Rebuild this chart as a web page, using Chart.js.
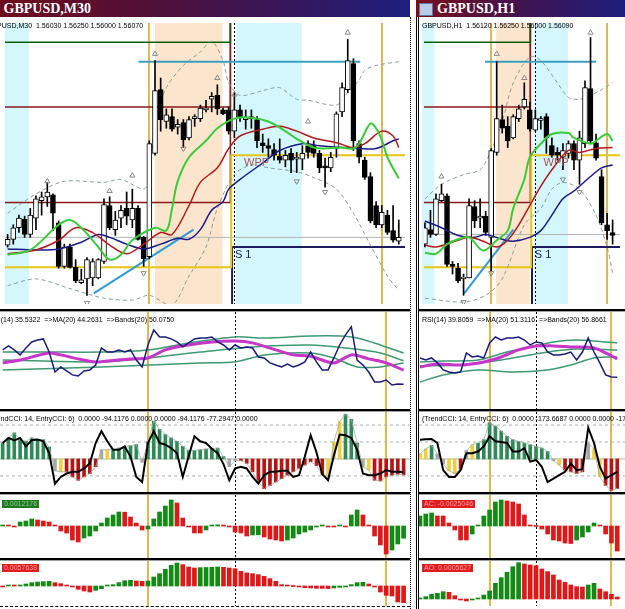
<!DOCTYPE html>
<html>
<head>
<meta charset="utf-8">
<title>GBPUSD M30 / H1</title>
<script src="https://cdn.jsdelivr.net/npm/chart.js@4.4.1/dist/chart.umd.min.js"></script>
<style>
  body { margin:0; width:625px; height:609px; position:relative; overflow:hidden; background:#fff; font-family:"Liberation Sans", Arial, sans-serif; }
  canvas { position:absolute; }
  .title { position:absolute; top:0; height:17px; color:#fff; font:bold 14px "Liberation Serif", serif; line-height:17px; white-space:nowrap; overflow:hidden; }
  .txt { position:absolute; font-size:7px; line-height:8px; white-space:nowrap; color:#000; }
  .hsep { position:absolute; height:2px; background:#000; border-bottom:1px solid #a0a0a0; }
  .tag { position:absolute; height:8px; font-size:7px; line-height:8px; padding:0 2px; white-space:nowrap; }
</style>
</head>
<body>

<div class="title" style="left:0;width:410px;background:linear-gradient(90deg,#6e0c1c,#4a1040 45%,#1e1f7e)">&nbsp;GBPUSD,M30</div>
<div class="title" style="left:416px;width:209px;background:linear-gradient(90deg,#7a0e1a,#3c1456 55%,#1e1f7e)"><span style="display:inline-block;width:12px;height:11px;margin:3px 4px 0 3px;vertical-align:top;background:#b8cbe8;border:1px solid #5a78a8"></span>GBPUSD,H1</div>

<div style="position:absolute;left:410px;top:17px;width:0;height:592px;border-left:1px dotted #000"></div>
<div style="position:absolute;left:416px;top:17px;width:0;height:592px;border-left:3px double #000"></div>
<div style="position:absolute;left:0;top:606px;width:410px;border-top:1px dashed #000"></div>

<canvas id="lp" width="410" height="291" style="left:0;top:18px"></canvas>
<canvas id="lr" width="410" height="97" style="left:0;top:312px"></canvas>
<canvas id="lc" width="410" height="80" style="left:0;top:412px"></canvas>
<canvas id="la" width="410" height="63" style="left:0;top:495px"></canvas>
<canvas id="lo" width="410" height="45" style="left:0;top:561px"></canvas>

<canvas id="rp" width="206" height="291" style="left:419px;top:18px"></canvas>
<canvas id="rr" width="206" height="97" style="left:419px;top:312px"></canvas>
<canvas id="rc" width="206" height="80" style="left:419px;top:412px"></canvas>
<canvas id="ra" width="206" height="63" style="left:419px;top:495px"></canvas>
<canvas id="ro" width="206" height="45" style="left:419px;top:561px"></canvas>

<div class="hsep" style="left:0;width:410px;top:309px"></div>
<div class="hsep" style="left:0;width:410px;top:409px"></div>
<div class="hsep" style="left:0;width:410px;top:492px"></div>
<div class="hsep" style="left:0;width:410px;top:558px"></div>
<div class="hsep" style="left:419px;width:206px;top:309px"></div>
<div class="hsep" style="left:419px;width:206px;top:409px"></div>
<div class="hsep" style="left:419px;width:206px;top:492px"></div>
<div class="hsep" style="left:419px;width:206px;top:558px"></div>

<div class="txt" style="left:-13px;top:22px">GBPUSD,M30&nbsp;&nbsp;1.56030 1.56250 1.56000 1.56070</div>
<div class="txt" style="left:-11px;top:316px">RSI(14) 35.5322 &nbsp;=&gt;MA(20) 44.2631 &nbsp;=&gt;Bands(20) 50.0750</div>
<div class="txt" style="left:-12px;top:415px">(TrendCCI: 14, EntryCCI: 6)&nbsp;&nbsp;0.0000 -94.1176 0.0000 0.0000 -94.1176 -77.2947 0.0000</div>
<div class="tag" style="left:2px;top:500px;background:#1d7a1d;color:#9fc89f">0.0012176</div>
<div class="tag" style="left:2px;top:564px;background:#e01c1c;color:#f4a0a0">0.0057638</div>

<div class="txt" style="left:422px;top:22px">GBPUSD,H1&nbsp;&nbsp;1.56120 1.56250 1.56000 1.56090</div>
<div class="txt" style="left:422px;top:316px">RSI(14) 39.8059 &nbsp;=&gt;MA(20) 51.3116 &nbsp;=&gt;Bands(20) 56.8661</div>
<div class="txt" style="left:422px;top:415px">(TrendCCI: 14, EntryCCI: 6)&nbsp;&nbsp;0.0000 -173.6687 0.0000 0.0000 -173.6687</div>
<div class="tag" style="left:422px;top:500px;background:#e01c1c;color:#f4a0a0">AC: -0.0025046</div>
<div class="tag" style="left:422px;top:564px;background:#e01c1c;color:#f4a0a0">AO: 0.0005627</div>

<script>
// ---------- GBPUSD M30 (left window) ----------
const m30Open  = [1.5599,1.5605,1.5617,1.5626,1.5610,1.5627,1.5645,1.5649,1.5651,1.5622,1.5577,1.5597,1.5576,1.5560,1.5564,1.5565,1.5565,1.5582,1.5640,1.5615,1.5627,1.5637,1.5625,1.5637,1.5607,1.5587,1.5694,1.5760,1.5727,1.5732,1.5721,1.5726,1.5710,1.5730,1.5730,1.5739,1.5750,1.5754,1.5739,1.5739,1.5717,1.5739,1.5729,1.5732,1.5729,1.5705,1.5702,1.5698,1.5691,1.5687,1.5694,1.5688,1.5688,1.5702,1.5702,1.5694,1.5681,1.5679,1.5699,1.5737,1.5760,1.5787,1.5704,1.5687,1.5670,1.5640,1.5620,1.5630,1.5614,1.5603];
const m30High  = [1.5610,1.5620,1.5630,1.5629,1.5637,1.5650,1.5654,1.5664,1.5652,1.5624,1.5600,1.5600,1.5584,1.5574,1.5586,1.5585,1.5585,1.5647,1.5649,1.5634,1.5640,1.5654,1.5657,1.5640,1.5608,1.5707,1.5790,1.5772,1.5740,1.5740,1.5729,1.5729,1.5732,1.5734,1.5744,1.5749,1.5757,1.5765,1.5741,1.5742,1.5757,1.5744,1.5739,1.5739,1.5732,1.5714,1.5709,1.5704,1.5709,1.5697,1.5699,1.5695,1.5702,1.5707,1.5707,1.5697,1.5689,1.5695,1.5737,1.5767,1.5812,1.5792,1.5707,1.5690,1.5674,1.5644,1.5640,1.5635,1.5640,1.5625];
const m30Low   = [1.5597,1.5600,1.5612,1.5607,1.5607,1.5615,1.5630,1.5639,1.5614,1.5575,1.5575,1.5575,1.5560,1.5559,1.5547,1.5557,1.5564,1.5580,1.5615,1.5609,1.5617,1.5620,1.5617,1.5604,1.5577,1.5585,1.5692,1.5717,1.5720,1.5717,1.5714,1.5700,1.5708,1.5722,1.5727,1.5737,1.5737,1.5734,1.5734,1.5714,1.5710,1.5727,1.5719,1.5720,1.5700,1.5695,1.5690,1.5687,1.5684,1.5680,1.5674,1.5674,1.5677,1.5689,1.5690,1.5674,1.5659,1.5675,1.5690,1.5732,1.5757,1.5697,1.5684,1.5667,1.5622,1.5617,1.5617,1.5610,1.5602,1.5600];
const m30Close = [1.5605,1.5617,1.5627,1.5610,1.5630,1.5647,1.5649,1.5654,1.5632,1.5577,1.5597,1.5576,1.5562,1.5563,1.5584,1.5582,1.5584,1.5641,1.5617,1.5625,1.5635,1.5629,1.5637,1.5605,1.5585,1.5704,1.5759,1.5729,1.5734,1.5719,1.5724,1.5708,1.5729,1.5732,1.5741,1.5741,1.5753,1.5740,1.5735,1.5717,1.5739,1.5732,1.5731,1.5730,1.5707,1.5702,1.5699,1.5692,1.5687,1.5692,1.5687,1.5690,1.5694,1.5695,1.5694,1.5679,1.5679,1.5690,1.5735,1.5762,1.5790,1.5707,1.5690,1.5669,1.5624,1.5620,1.5633,1.5612,1.5604,1.5607];

// moving averages and bands, [bar, price]
const m30FastMA = [[0,1.5589],[4,1.5594],[9,1.5620],[11,1.5625],[13,1.5617],[16,1.5597],[18,1.5584],[20,1.5589],[22,1.5604],[26,1.5617],[28,1.5614],[29,1.5637],[30,1.5665],[32,1.5690],[35,1.5707],[37,1.5720],[40,1.5730],[43,1.5731],[46,1.5727],[49,1.5717],[51,1.5709],[54,1.5700],[56,1.5699],[59,1.5700],[61,1.5699],[62,1.5704],[64,1.5725],[65,1.5720],[66,1.5708],[67,1.5690],[69,1.5668]];
const m30MidMA  = [[0,1.5590],[5,1.5594],[9,1.5604],[12,1.5617],[15,1.5612],[18,1.5599],[21,1.5590],[24,1.5600],[27,1.5612],[29,1.5610],[32,1.5640],[34,1.5664],[37,1.5679],[39,1.5699],[41,1.5712],[45,1.5719],[48,1.5722],[51,1.5717],[54,1.5710],[58,1.5705],[61,1.5700],[63,1.5704],[66,1.5717],[68,1.5712],[69,1.5700]];
const m30SlowMA = [[0,1.5595],[5,1.5594],[9,1.5595],[13,1.5602],[16,1.5610],[18,1.5607],[21,1.5600],[24,1.5595],[27,1.5600],[30,1.5606],[32,1.5605],[34,1.5615],[36,1.5635],[38,1.5644],[39,1.5657],[41,1.5667],[45,1.5684],[48,1.5697],[52,1.5704],[55,1.5702],[59,1.5700],[62,1.5699],[65,1.5699],[68,1.5707],[69,1.5709]];
const m30BandUp = [[0,1.5632],[5,1.5652],[10,1.5665],[17,1.5664],[20,1.5667],[24,1.5657],[25,1.5667],[26,1.5727],[28,1.5762],[31,1.5785],[34,1.5799],[36,1.5810],[38,1.5790],[39,1.5767],[41,1.5754],[45,1.5759],[48,1.5762],[51,1.5750],[53,1.5749],[58,1.5744],[60,1.5757],[62,1.5770],[63,1.5780],[65,1.5785],[69,1.5789]];
const m30BandLo = [[0,1.5557],[5,1.5564],[11,1.5554],[17,1.5544],[22,1.5542],[25,1.5547],[29,1.5537],[32,1.5567],[35,1.5597],[37,1.5637],[40,1.5672],[43,1.5682],[46,1.5679],[51,1.5675],[54,1.5669],[58,1.5657],[61,1.5632],[64,1.5599],[67,1.5567],[69,1.5552]];
const m30FractalUp = [[7,1.5665],[18,1.5655],[22,1.5671],[26,1.5797],[37,1.5772],[40,1.5755],[53,1.5727],[60,1.5819]];
const m30FractalDn = [[14,1.5539],[24,1.5570],[31,1.5699],[51,1.5665],[56,1.5654]];
const m30Trend = [[15.2,1.5549],[32.8,1.5615]];
const m30Resist = [[23.1,1.5789],[62.2,1.5789]];
const m30DaySwitch = 39.3;
const m30CyanZones = [[-0.5,3.8],[40.2,51.9]];
const m30PeachZones = [[26.0,37.9]];
const m30GoldBars = [25, 66];
const m30DayBars = [40];
const m30LastPrice = 1.5607;

const m30Rsi = [56.9,59.4,56.9,53.8,58.1,61.9,63.1,63.8,55.6,43.1,46.3,43.8,41.3,40.6,43.8,44.4,47.5,58.1,55.6,55.6,56.9,55.6,56.9,50.6,46.3,60.0,69.4,65.0,65.0,63.8,61.9,58.8,61.3,63.8,64.4,64.4,65.0,61.9,60.0,56.9,60.0,58.1,58.8,58.1,52.5,51.9,48.8,47.5,46.3,48.1,46.3,47.5,49.4,55.6,49.4,44.4,44.4,51.9,60.0,66.3,71.3,50.6,47.5,43.1,36.9,36.9,38.1,35.0,35.6,35.5];
const m30RsiMA = [[0,48.8],[3,50.6],[8,55.0],[10,53.8],[13,51.3],[16,49.4],[18,50.0],[22,51.3],[25,51.9],[28,56.9],[32,60.0],[36,61.9],[40,62.5],[43,61.3],[47,56.9],[50,53.8],[53,53.0],[57,48.8],[60,53.8],[63,51.3],[66,48.8],[69,44.3]];
const m30RsiBandUp = [[0,55.6],[8,55.6],[17,55.6],[25,56.9],[32,61.3],[40,65.0],[45,64.4],[53,65.6],[58,65.6],[61,64.4],[65,60.0],[69,55.0]];
const m30RsiBandMid = [[0,50.6],[17,49.4],[25,51.9],[34,55.6],[43,58.8],[53,60.0],[59,58.1],[65,55.0],[69,50.1]];
const m30RsiBandLo = [[0,44.4],[17,46.3],[34,48.8],[40,49.4],[45,53.8],[53,55.0],[57,51.9],[61,46.3],[65,46.3],[69,48.8]];

const m30TrendCci = [94,124,154,114,104,124,114,114,70,-70,-76,-76,-106,-126,-106,-86,-46,54,54,54,64,70,78,84,-20,100,224,174,144,124,104,74,50,50,54,58,62,64,14,-46,-10,-10,-26,-76,-136,-176,-156,-136,-116,-96,-76,-56,-36,-16,-40,-90,-116,100,220,264,234,94,-46,-66,-126,-130,-106,-96,-90,-94];
const m30TrendState = 'ggggggggg' + 'syrrrrrr' + 'syggggg' + 'sgggggggggggggg' + 'ssrrrrrrrrrrrrrrr' + 'yyyggg' + 'syrrrrrr';
const m30EntryCci = [94,124,110,124,74,110,114,104,34,-146,-106,-86,-76,-76,-56,-26,94,164,104,54,54,74,14,-106,-136,94,164,94,84,64,34,-106,14,134,104,94,60,34,-30,-126,-56,-46,-56,-106,-146,-96,-76,-76,-70,-70,-106,-96,14,140,40,-90,-126,20,144,140,124,54,-86,-96,-96,-86,-66,-76,-76,-77];

const m30AC = [0.0001,0.0001,-0.0001,0.0004,0.0005,0.0007,0.0006,0.0005,0.0004,0.0001,-0.0005,-0.0007,-0.0014,-0.0016,-0.0012,-0.0010,-0.0005,0.0003,0.0008,0.0011,0.0014,0.00138,0.0009,0.0003,-0.0004,-0.0003,0.0007,0.0014,0.0020,0.0026,0.0023,0.0008,-0.0001,-0.0007,-0.0007,-0.0004,0.0001,0.00012,0.0001,-0.0001,-0.0006,-0.0007,-0.0010,-0.0009,-0.00088,-0.0011,-0.0013,-0.0014,-0.0015,-0.0014,-0.0012,-0.0008,-0.0006,-0.0004,-0.0001,0.0001,-0.0001,-0.0001,0.0001,-0.0001,0.0011,0.0016,0.0011,0.0001,-0.0010,-0.0019,-0.0028,-0.0024,-0.0018,-0.00122];
const m30AO = [-0.0002,0.0001,0.0001,0.0003,0.0006,0.0010,0.0012,0.0013,0.0014,0.0010,0.0007,0.0002,-0.0003,-0.0010,-0.0015,-0.0018,-0.0013,-0.0008,0.0001,0.0004,0.0010,0.0016,0.0017,0.0015,0.0014,0.0015,0.0027,0.0037,0.0050,0.0062,0.0069,0.0064,0.0057,0.0054,0.0055,0.00555,0.0056,0.0057,0.0056,0.0054,0.0052,0.0044,0.0039,0.0037,0.0034,0.0029,0.0022,0.0014,0.0004,0.0002,0.0000,-0.0003,-0.0005,-0.0006,-0.0007,-0.00072,-0.00075,-0.0006,-0.0004,-0.0001,0.0004,0.0010,0.0011,0.0006,-0.0002,-0.0018,-0.0028,-0.0030,-0.0048,-0.0050];

// ---------- GBPUSD H1 (right window) ----------
const h1Open  = [1.5600,1.5615,1.5610,1.5645,1.5650,1.5579,1.5575,1.5564,1.5565,1.5639,1.5627,1.5629,1.5607,1.5695,1.5729,1.5722,1.5710,1.5730,1.5742,1.5739,1.5718,1.5728,1.5732,1.5702,1.5695,1.5690,1.5694,1.5704,1.5687,1.5704,1.5761,1.5705,1.5670,1.5620,1.5612];
const h1High  = [1.5622,1.5635,1.5652,1.5662,1.5652,1.5582,1.5580,1.5569,1.5647,1.5645,1.5647,1.5634,1.5699,1.5789,1.5744,1.5732,1.5734,1.5744,1.5767,1.5747,1.5739,1.5732,1.5735,1.5710,1.5700,1.5704,1.5707,1.5707,1.5717,1.5769,1.5814,1.5714,1.5677,1.5632,1.5625];
const h1Low   = [1.5597,1.5607,1.5609,1.5644,1.5577,1.5569,1.5560,1.5547,1.5565,1.5617,1.5617,1.5609,1.5572,1.5692,1.5715,1.5700,1.5709,1.5727,1.5740,1.5717,1.5717,1.5719,1.5694,1.5690,1.5687,1.5677,1.5689,1.5677,1.5662,1.5700,1.5705,1.5687,1.5620,1.5605,1.5600];
const h1Close = [1.5617,1.5610,1.5647,1.5652,1.5579,1.5577,1.5562,1.5566,1.5640,1.5624,1.5629,1.5612,1.5697,1.5730,1.5720,1.5707,1.5732,1.5740,1.5750,1.5719,1.5730,1.5730,1.5710,1.5692,1.5692,1.5697,1.5704,1.5687,1.5710,1.5762,1.5707,1.5689,1.5622,1.5614,1.5609];

const h1FastMA = [[0,1.5591],[2,1.5590],[4,1.5600],[6,1.5605],[8,1.5607],[10,1.5595],[11,1.5594],[13,1.5604],[15,1.5614],[16,1.5637],[18,1.5667],[19,1.5690],[21,1.5704],[23,1.5714],[26,1.5715],[27,1.5710],[30,1.5704],[31,1.5707],[33,1.5714],[34,1.5707]];
const h1MidMA  = [[0,1.5599],[2,1.5597],[6,1.5604],[8,1.5607],[11,1.5602],[13,1.5597],[15,1.5604],[17,1.5620],[19,1.5640],[21,1.5660],[23,1.5677],[26,1.5697],[28,1.5695],[31,1.5699],[34,1.5700]];
const h1SlowMA = [[0,1.5624],[3,1.5617],[6,1.5609],[9,1.5607],[11,1.5610],[14,1.5605],[16,1.5603],[19,1.5607],[21,1.5614],[23,1.5630],[25,1.5647],[27,1.5655],[30,1.5670],[32,1.5679],[34,1.5682]];
const h1BandUp = [[0,1.5647],[3,1.5662],[7,1.5672],[10,1.5677],[12,1.5697],[14,1.5727],[16,1.5767],[19,1.5794],[21,1.5790],[24,1.5767],[26,1.5752],[28,1.5750],[30,1.5754],[32,1.5760],[34,1.5767]];
const h1BandLo = [[0,1.5544],[7,1.5540],[11,1.5547],[14,1.5564],[18,1.5620],[21,1.5637],[23,1.5657],[25,1.5664],[28,1.5657],[31,1.5630],[33,1.5597],[34,1.5570]];
const h1FractalUp = [[3,1.5670],[13,1.5797],[18,1.5772],[30,1.5819]];
const h1FractalDn = [[7,1.5540],[12,1.5570],[25,1.5667],[28,1.5654]];
const h1Trend = [[7.1,1.5549],[16.0,1.5615]];
const h1Resist = [[10.9,1.5789],[31.0,1.5789]];
const h1DaySwitch = 19.1;
const h1CyanZones = [[-0.5,1.7],[19.8,25.9]];
const h1PeachZones = [[12.9,19.0]];
const h1GoldBars = [12, 33];
const h1DayBars = [20];
const h1LastPrice = 1.5610;

const h1Rsi = [51.9,50.6,51.9,48.8,44.4,43.1,42.5,43.1,55.0,52.5,53.1,51.9,61.3,65.0,63.1,64.4,64.4,65.0,63.1,60.0,61.9,61.3,55.6,53.8,53.8,54.4,55.6,50.6,55.6,64.4,55.6,48.8,41.3,40.0,39.8];
const h1RsiMA = [[0,46.3],[3,48.1],[7,47.5],[11,49.4],[14,52.5],[17,56.9],[20,59.4],[23,59.4],[26,58.8],[30,58.1],[32,55.0],[34,51.3]];
const h1RsiBandUp = [[0,49.4],[4,50.0],[10,50.6],[15,55.6],[19,58.8],[23,61.9],[27,63.1],[32,61.9],[34,61.3]];
const h1RsiBandMid = [[0,46.9],[7,47.5],[14,50.6],[22,55.6],[27,57.5],[34,56.9]];
const h1RsiBandLo = [[0,36.9],[4,41.3],[10,44.4],[16,43.1],[22,44.4],[26,47.5],[30,51.9],[34,52.5]];

const h1TrendCci = [30,60,80,30,-30,-70,-86,-60,50,84,94,114,214,194,164,134,114,104,94,84,74,64,44,-10,-36,-66,-76,-86,-76,94,60,-106,-156,-186,-174];
const h1TrendState = 'yygssyyrsy' + 'ggggggggggggg' + 'syrrrr' + 'syyrrr';
const h1EntryCci = [114,116,118,94,-66,-106,-106,-66,34,34,44,74,134,104,100,94,44,44,64,-16,-6,-46,-136,-116,-96,-76,-26,-66,-60,184,94,-46,-116,-96,-76];

const h1AC = [0.0010,0.0012,0.0013,0.0010,0.0010,0.0003,-0.0004,-0.0014,-0.0014,-0.0008,0.0001,0.0010,0.0016,0.0024,0.0026,0.0025,0.0024,0.0022,0.0011,0.0001,0.0000,-0.0003,-0.0008,-0.0014,-0.0015,-0.0017,-0.00175,-0.0014,-0.0011,-0.0006,0.0003,0.0001,-0.0008,-0.0017,-0.0025];
const h1AO = [0.0002,0.0007,0.0014,0.0017,0.0022,0.0020,0.0010,-0.0003,-0.0006,-0.0003,0.0002,0.0012,0.0024,0.0047,0.0064,0.0080,0.0097,0.0109,0.0105,0.0102,0.0100,0.0090,0.0082,0.0072,0.0057,0.0050,0.0042,0.0037,0.0036,0.0042,0.0047,0.0030,0.0022,0.0014,0.0006];

// daily pivot levels (before / after the day switch); off-scale values leave the panel
const pivotTop   = [1.5809, 1.5900];
const pivotR1    = [1.5742, 1.5900];
const pivotR2    = [1.5643, 1.5900];
const pivotMain  = [1.5576, 1.5692];
const pivotS1    = [1.5450, 1.5597];
const cciLevels  = [200, 100, -100];

// ---------- drawing ----------
const CYAN = '#d3f7fd', PEACH = '#fbe5cc', GOLD = '#e2b74c';
const CCI_COL = { g: '#2e8b57', r: '#b81414', y: '#f0d040', s: '#a8a8a8' };
const UP = '#138a13', DOWN = '#e01818';

const decor = {
  id: 'decor',
  beforeDatasetsDraw(chart, args, o) {
    const { ctx, chartArea: a, scales: { x } } = chart;
    ctx.save();
    (o.zones || []).forEach(z => {
      const x0 = x.getPixelForValue(z.from), x1 = x.getPixelForValue(z.to);
      ctx.fillStyle = z.color;
      ctx.fillRect(x0, a.top, x1 - x0, a.bottom - a.top);
    });
    (o.gold || []).forEach(v => {
      const px = Math.round(x.getPixelForValue(v));
      ctx.strokeStyle = GOLD; ctx.lineWidth = 2;
      ctx.beginPath(); ctx.moveTo(px, a.top); ctx.lineTo(px, a.bottom); ctx.stroke();
    });
    (o.dashed || []).forEach(v => {
      const px = Math.round(x.getPixelForValue(v)) + 0.5;
      ctx.strokeStyle = '#000'; ctx.lineWidth = 1; ctx.setLineDash([2, 2]);
      ctx.beginPath(); ctx.moveTo(px, a.top); ctx.lineTo(px, a.bottom); ctx.stroke();
      ctx.setLineDash([]);
    });
    ctx.restore();
  },
  afterDatasetsDraw(chart, args, o) {
    const { ctx, scales: { x, y } } = chart;
    ctx.save();
    ctx.font = '11px "Liberation Sans", Arial, sans-serif';
    ctx.textBaseline = 'top';
    (o.texts || []).forEach(t => {
      ctx.fillStyle = t.color;
      ctx.fillText(t.text, x.getPixelForValue(t.at[0]), y.getPixelForValue(t.at[1]) + 2);
    });
    ctx.restore();
  }
};

const pts = p => p.map(([x, y]) => ({ x, y }));
const series = v => v.map((y, i) => ({ x: i, y }));
const line = (data, color, width, order, extra) => Object.assign(
  { type: 'line', data, borderColor: color, borderWidth: width, pointRadius: 0, fill: false, tension: 0, order }, extra || {});
const step = (lv, sw, xr) => [{ x: xr[0], y: lv[0] }, { x: sw, y: lv[0] }, { x: sw, y: lv[1] }, { x: xr[1], y: lv[1] }];
const risingColors = v => v.map((y, i) => (i > 0 && y > v[i - 1]) || (i === 0 && y > 0) ? UP : DOWN);

function makeChart(id, xr, yr, datasets, opts) {
  return new Chart(document.getElementById(id), {
    type: 'bar',
    data: { datasets },
    options: {
      responsive: false, animation: false, events: [],
      layout: { padding: 0 },
      plugins: { legend: { display: false }, tooltip: { enabled: false }, decor: opts || {} },
      scales: {
        x: { type: 'linear', min: xr[0], max: xr[1], offset: false, display: false },
        y: { type: 'linear', min: yr[0], max: yr[1], display: false }
      }
    },
    plugins: [decor]
  });
}

function priceChart(id, xr, c) {
  const ds = [
    line([{ x: xr[0], y: c.last }, { x: xr[1], y: c.last }], '#b4b4b4', 1, 20),
    line(step(pivotTop, c.sw, xr), '#0b5e0b', 1.5, 19),
    line(step(pivotR1, c.sw, xr), '#8c1a1a', 1.5, 19),
    line(step(pivotR2, c.sw, xr), '#8c1a1a', 1.5, 19),
    line(step(pivotMain, c.sw + 0.15, xr), '#e6c619', 2, 18),
    line(step(pivotS1, c.sw + 0.3, xr), '#1c1c5e', 2, 18),
    line(pts(c.resist), '#3d9fc0', 2, 17),
    line(pts(c.trend), '#2f9bd6', 2, 17),
    line(pts(c.bandUp), '#8aa096', 1, 16, { borderDash: [4, 3], tension: 0.3 }),
    line(pts(c.bandLo), '#8aa096', 1, 16, { borderDash: [4, 3], tension: 0.3 }),
    { type: 'bar', data: c.low.map((v, i) => ({ x: i, y: [v, c.high[i]] })), backgroundColor: '#000',
      barThickness: 1, grouped: false, order: 12 },
    { type: 'bar', data: c.open.map((v, i) => ({ x: i, y: [v, c.close[i]] })),
      backgroundColor: c.open.map((v, i) => c.close[i] >= v ? '#fff' : '#000'),
      borderColor: '#000', borderWidth: 1, borderSkipped: false, barThickness: 5, grouped: false, order: 11 },
    line(pts(c.slow), '#1a1a8c', 1.5, 5, { tension: 0.35 }),
    line(pts(c.mid), '#b31b1b', 1.5, 4, { tension: 0.35 }),
    line(pts(c.fast), '#38cc38', 2, 3, { tension: 0.35 }),
    line(pts(c.fracUp), '#9a9a9a', 1, 2, { showLine: false, pointRadius: 3, pointStyle: 'triangle',
      pointBorderColor: '#8a8a8a', pointBackgroundColor: 'rgba(0,0,0,0)' }),
    line(pts(c.fracDn), '#9a9a9a', 1, 2, { showLine: false, pointRadius: 3, pointStyle: 'triangle', pointRotation: 180,
      pointBorderColor: '#8a8a8a', pointBackgroundColor: 'rgba(0,0,0,0)' })
  ];
  makeChart(id, xr, [1.5538, 1.5829], ds, {
    zones: [...c.cyan.map(z => ({ from: z[0], to: z[1], color: CYAN })), ...c.peach.map(z => ({ from: z[0], to: z[1], color: PEACH }))],
    gold: c.gold, dashed: c.day,
    texts: [
      { text: 'WPP', at: [c.sw + 2.4, pivotMain[1]], color: '#a65454' },
      { text: 'S 1', at: [c.sw + 0.8, pivotS1[1]], color: '#1c1c5e' }
    ]
  });
}

function rsiChart(id, xr, c) {
  makeChart(id, xr, [20, 80.6], [
    line(pts(c.up), '#3d9a72', 1.5, 6, { tension: 0.3 }),
    line(pts(c.mid), '#3d9a72', 1.5, 6, { tension: 0.3 }),
    line(pts(c.lo), '#3d9a72', 1.5, 6, { tension: 0.3 }),
    line(pts(c.ma), '#c935c9', 3, 4, { tension: 0.3 }),
    line(series(c.rsi), '#1c1c7c', 1.5, 2)
  ], { gold: c.gold, dashed: c.day });
}

function cciChart(id, xr, c) {
  const ds = cciLevels.map(v => line([{ x: xr[0], y: v }, { x: xr[1], y: v }], '#b0b0b0', 1, 10, { borderDash: [3, 3] }));
  ds.push(line([{ x: xr[0], y: 0 }, { x: xr[1], y: 0 }], '#a8b8a8', 1, 9));
  ds.push({ type: 'bar', data: series(c.trend), backgroundColor: c.trend.map((v, i) => CCI_COL[c.state[i]]),
    barThickness: 3, grouped: false, order: 6 });
  ds.push(line(series(c.trend), 'rgba(160,175,160,0.8)', 1, 5));
  ds.push(line(series(c.entry), '#000', 2, 2));
  makeChart(id, xr, [-195, 277], ds, { gold: c.gold, dashed: c.day });
}

function histChart(id, xr, yr, v, c) {
  makeChart(id, xr, yr, [
    { type: 'bar', data: series(v), backgroundColor: risingColors(v), barThickness: 4, grouped: false, minBarLength: 1 }
  ], { gold: c.gold, dashed: c.day });
}

const LX = [-0.46, 70.1], RX = [-0.17, 35.34];
const m30 = { gold: m30GoldBars, day: m30DayBars };
const h1 = { gold: h1GoldBars, day: h1DayBars };

priceChart('lp', LX, { open: m30Open, high: m30High, low: m30Low, close: m30Close, fast: m30FastMA, mid: m30MidMA, slow: m30SlowMA,
  bandUp: m30BandUp, bandLo: m30BandLo, fracUp: m30FractalUp, fracDn: m30FractalDn, trend: m30Trend, resist: m30Resist,
  sw: m30DaySwitch, cyan: m30CyanZones, peach: m30PeachZones, gold: m30GoldBars, day: m30DayBars, last: m30LastPrice });
priceChart('rp', RX, { open: h1Open, high: h1High, low: h1Low, close: h1Close, fast: h1FastMA, mid: h1MidMA, slow: h1SlowMA,
  bandUp: h1BandUp, bandLo: h1BandLo, fracUp: h1FractalUp, fracDn: h1FractalDn, trend: h1Trend, resist: h1Resist,
  sw: h1DaySwitch, cyan: h1CyanZones, peach: h1PeachZones, gold: h1GoldBars, day: h1DayBars, last: h1LastPrice });

rsiChart('lr', LX, Object.assign({ rsi: m30Rsi, ma: m30RsiMA, up: m30RsiBandUp, mid: m30RsiBandMid, lo: m30RsiBandLo }, m30));
rsiChart('rr', RX, Object.assign({ rsi: h1Rsi, ma: h1RsiMA, up: h1RsiBandUp, mid: h1RsiBandMid, lo: h1RsiBandLo }, h1));

cciChart('lc', LX, Object.assign({ trend: m30TrendCci, state: m30TrendState, entry: m30EntryCci }, m30));
cciChart('rc', RX, Object.assign({ trend: h1TrendCci, state: h1TrendState, entry: h1EntryCci }, h1));

histChart('la', LX, [-0.0032, 0.0031], m30AC, m30);
histChart('ra', RX, [-0.0032, 0.0031], h1AC, h1);
histChart('lo', LX, [-0.0060, 0.0075], m30AO, m30);
histChart('ro', RX, [-0.0021, 0.0114], h1AO, h1);
</script>
</body>
</html>
